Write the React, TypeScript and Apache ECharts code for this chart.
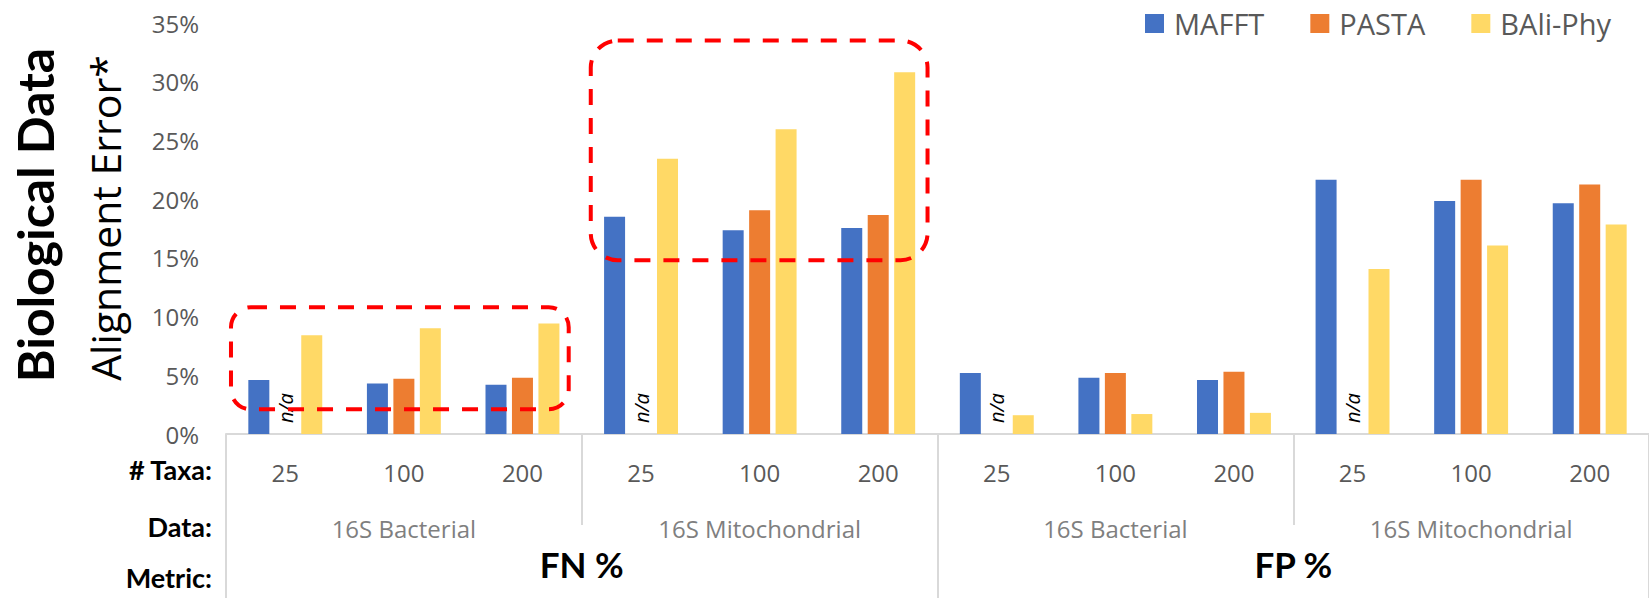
import React, { useEffect, useRef } from "react";
import * as echarts from "echarts";

// ---- Data ----
const TAXA = ["25", "100", "200", "25", "100", "200", "25", "100", "200", "25", "100", "200"];
const DATASETS = ["16S Bacterial", "16S Mitochondrial", "16S Bacterial", "16S Mitochondrial"];
const METRICS = ["FN %", "FP %"];
const SERIES_NAMES = ["MAFFT", "PASTA", "BAli-Phy"];
// values in percent; null = n/a
const MAFFT = [4.6, 4.3, 4.2, 18.5, 17.35, 17.55, 5.2, 4.8, 4.6, 21.65, 19.85, 19.65];
const PASTA: (number | null)[] = [null, 4.7, 4.8, null, 19.05, 18.65, null, 5.2, 5.3, null, 21.65, 21.25];
const BALI = [8.4, 9.0, 9.4, 23.45, 25.95, 30.8, 1.6, 1.7, 1.8, 14.05, 16.05, 17.85];
const Y_MIN = 0;
const Y_MAX = 35;
const Y_STEP = 5;
const NA_TEXT = "n/a";
const ROW_LABELS = ["# Taxa:", "Data:", "Metric:"];
const Y_TITLE = "Biological Data";
const Y_SUBTITLE = "Alignment Error*";
// highlighted regions in axis units (category index, percent)
const HIGHLIGHTS = [
  { from: -0.458, to: 2.39, low: 2.1, high: 10.8, r: 20 },
  { from: 2.576, to: 5.416, low: 14.8, high: 33.5, r: 27 },
];

const COLORS = ["#4472C4", "#ED7D31", "#FFD966"];
const GRAY_LINE = "#d9d9d9";
const SANS = "'Open Sans', 'DejaVu Sans', sans-serif";
const BOLD = "Lato, 'Open Sans', sans-serif";

export default function App() {
  const ref = useRef<HTMLDivElement>(null);
  useEffect(() => {
    if (!ref.current) return;
    const chart = echarts.init(ref.current, undefined, { renderer: "svg" });
    const naLabel = {
      show: true,
      formatter: NA_TEXT,
      position: "insideBottom",
      rotate: 90,
      align: "left",
      verticalAlign: "middle",
      distance: 11,
      fontStyle: "italic",
      fontSize: 20,
      color: "#000",
      fontFamily: SANS,
    };
    const option: any = {
      animation: false,
      backgroundColor: "#fff",
      grid: { left: 226, top: 23, width: 1428, height: 411, containLabel: false },
      legend: {
        data: SERIES_NAMES,
        left: 1145,
        top: 9,
        padding: 0,
        icon: "rect",
        itemWidth: 19,
        itemHeight: 19,
        itemGap: 46,
        textStyle: { fontSize: 29, color: "#595959", fontFamily: SANS, padding: [0, 0, 0, 5] },
      },
      xAxis: [
        {
          type: "category",
          data: TAXA,
          position: "bottom",
          offset: 0,
          axisLine: { show: true, lineStyle: { color: GRAY_LINE, width: 2 } },
          axisTick: { show: false },
          axisLabel: { interval: 0, fontSize: 24, color: "#595959", fontFamily: SANS, margin: 26 },
        },
        {
          type: "category",
          data: DATASETS,
          position: "bottom",
          offset: 0,
          axisLine: { show: false },
          axisTick: { show: true, interval: 0, length: 91, lineStyle: { color: GRAY_LINE, width: 2 } },
          axisLabel: { interval: 0, fontSize: 24, color: "#7f7f7f", fontFamily: SANS, margin: 82 },
        },
        {
          type: "category",
          data: METRICS,
          position: "bottom",
          offset: 0,
          axisLine: { show: false },
          axisTick: { show: true, interval: 0, length: 164, lineStyle: { color: GRAY_LINE, width: 2 } },
          axisLabel: { interval: 0, fontSize: 35, fontWeight: "bold", color: "#000", fontFamily: BOLD, margin: 112 },
        },
      ],
      yAxis: {
        type: "value",
        min: Y_MIN,
        max: Y_MAX,
        interval: Y_STEP,
        axisLine: { show: false },
        axisTick: { show: false },
        splitLine: { show: false },
        axisLabel: { formatter: "{value}%", fontSize: 24, color: "#595959", fontFamily: SANS, margin: 27 },
      },
      series: [
        { name: SERIES_NAMES[0], type: "bar", data: MAFFT, barWidth: 21, barGap: "26%", itemStyle: { color: COLORS[0] } },
        {
          name: SERIES_NAMES[1],
          type: "bar",
          data: PASTA.map((v) => (v === null ? { value: 0, label: naLabel } : v)),
          barWidth: 21,
          barGap: "26%",
          itemStyle: { color: COLORS[1] },
        },
        { name: SERIES_NAMES[2], type: "bar", data: BALI, barWidth: 21, barGap: "26%", itemStyle: { color: COLORS[2] } },
      ],
    };
    chart.setOption(option);

    const x0 = chart.convertToPixel({ xAxisIndex: 0 }, 0) as number;
    const x1 = chart.convertToPixel({ xAxisIndex: 0 }, 1) as number;
    const band = x1 - x0;
    const boxes = HIGHLIGHTS.map((h, i) => {
      const left = x0 + h.from * band;
      const right = x0 + h.to * band;
      const top = chart.convertToPixel({ yAxisIndex: 0 }, h.high) as number;
      const bottom = chart.convertToPixel({ yAxisIndex: 0 }, h.low) as number;
      return {
        type: "rect",
        id: "box" + i,
        shape: { x: left, y: top, width: right - left, height: bottom - top, r: h.r },
        style: { fill: "none", stroke: "#ff0000", lineWidth: 4, lineDash: [16, 13] },
        z: 10,
      };
    });
    const texts = [
      {
        type: "text",
        id: "ytitle",
        x: 35,
        y: 215,
        rotation: Math.PI / 2,
        style: { text: Y_TITLE, font: `bold 50px ${BOLD}`, fill: "#000", textAlign: "center", textVerticalAlign: "middle" },
      },
      {
        type: "text",
        id: "ysub",
        x: 105,
        y: 218,
        rotation: Math.PI / 2,
        style: { text: Y_SUBTITLE, font: `41px ${SANS}`, fill: "#000", textAlign: "center", textVerticalAlign: "middle" },
      },
      ...ROW_LABELS.map((t, i) => ({
        type: "text",
        id: "row" + i,
        x: 212,
        y: [469, 526, 577][i],
        style: { text: t, font: `bold 27px ${BOLD}`, fill: "#000", textAlign: "right", textVerticalAlign: "middle" },
      })),
    ];
    chart.setOption({ graphic: [...texts, ...boxes] });
    return () => chart.dispose();
  }, []);
  return (
    <div
      ref={ref}
      style={{ position: "absolute", left: 0, top: 0, width: 1649, height: 598, background: "#fff" }}
    />
  );
}
